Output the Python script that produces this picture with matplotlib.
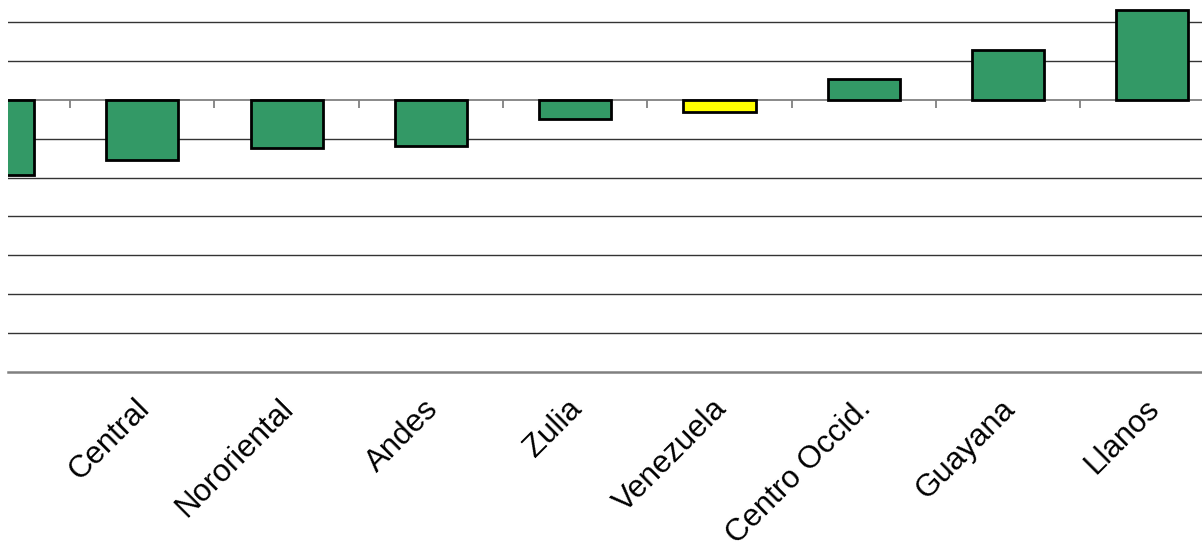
import numpy as np
import matplotlib.pyplot as plt
from matplotlib.transforms import ScaledTranslation

plt.rcParams['font.family'] = ['Liberation Sans', 'DejaVu Sans']

regions = ["Capital", "Central", "Nororiental", "Andes", "Zulia", "Venezuela",
           "Centro Occid.", "Guayana", "Llanos"]
values = [-1.93, -1.55, -1.24, -1.19, -0.49, -0.31, 0.54, 1.29, 2.32]
colors = ["#339966"] * 5 + ["#FFFF00"] + ["#339966"] * 3

fig = plt.figure(figsize=(12.02, 5.52), dpi=100)
ax = fig.add_axes([8 / 1202, (552 - 371.6) / 552, 1194 / 1202, 371.6 / 552])

x = np.arange(len(regions))
ax.bar(x, values, width=0.5, color=colors, edgecolor="black", linewidth=2, zorder=3)

# horizontal grid
for y in range(-6, 3):
    if y != 0:
        ax.axhline(y, color="#333333", linewidth=1, zorder=1)
ax.axhline(0, color="#808080", linewidth=1.3, zorder=2)
# category separators on the zero line
ax.vlines(x[:-1] + 0.5, -0.21, 0, color="#808080", linewidth=1.3, zorder=2)

for s in ["top", "left", "right"]:
    ax.spines[s].set_visible(False)
ax.spines["bottom"].set_color("#808080")
ax.spines["bottom"].set_linewidth(1.8)
ax.set_yticks([])

ax.set_xticks(x)
ax.set_xticklabels(regions, rotation=45, ha="right", rotation_mode="anchor", fontsize=22.5)
ax.tick_params(axis="x", length=0, pad=16)
for lab in ax.get_xticklabels():
    lab.set_transform(lab.get_transform() + ScaledTranslation(-0.08, 0, fig.dpi_scale_trans))

ax.set_ylim(-7, 2.58)
ax.set_xlim(0.069, 8.344)

fig.savefig("out.png", dpi=100)
